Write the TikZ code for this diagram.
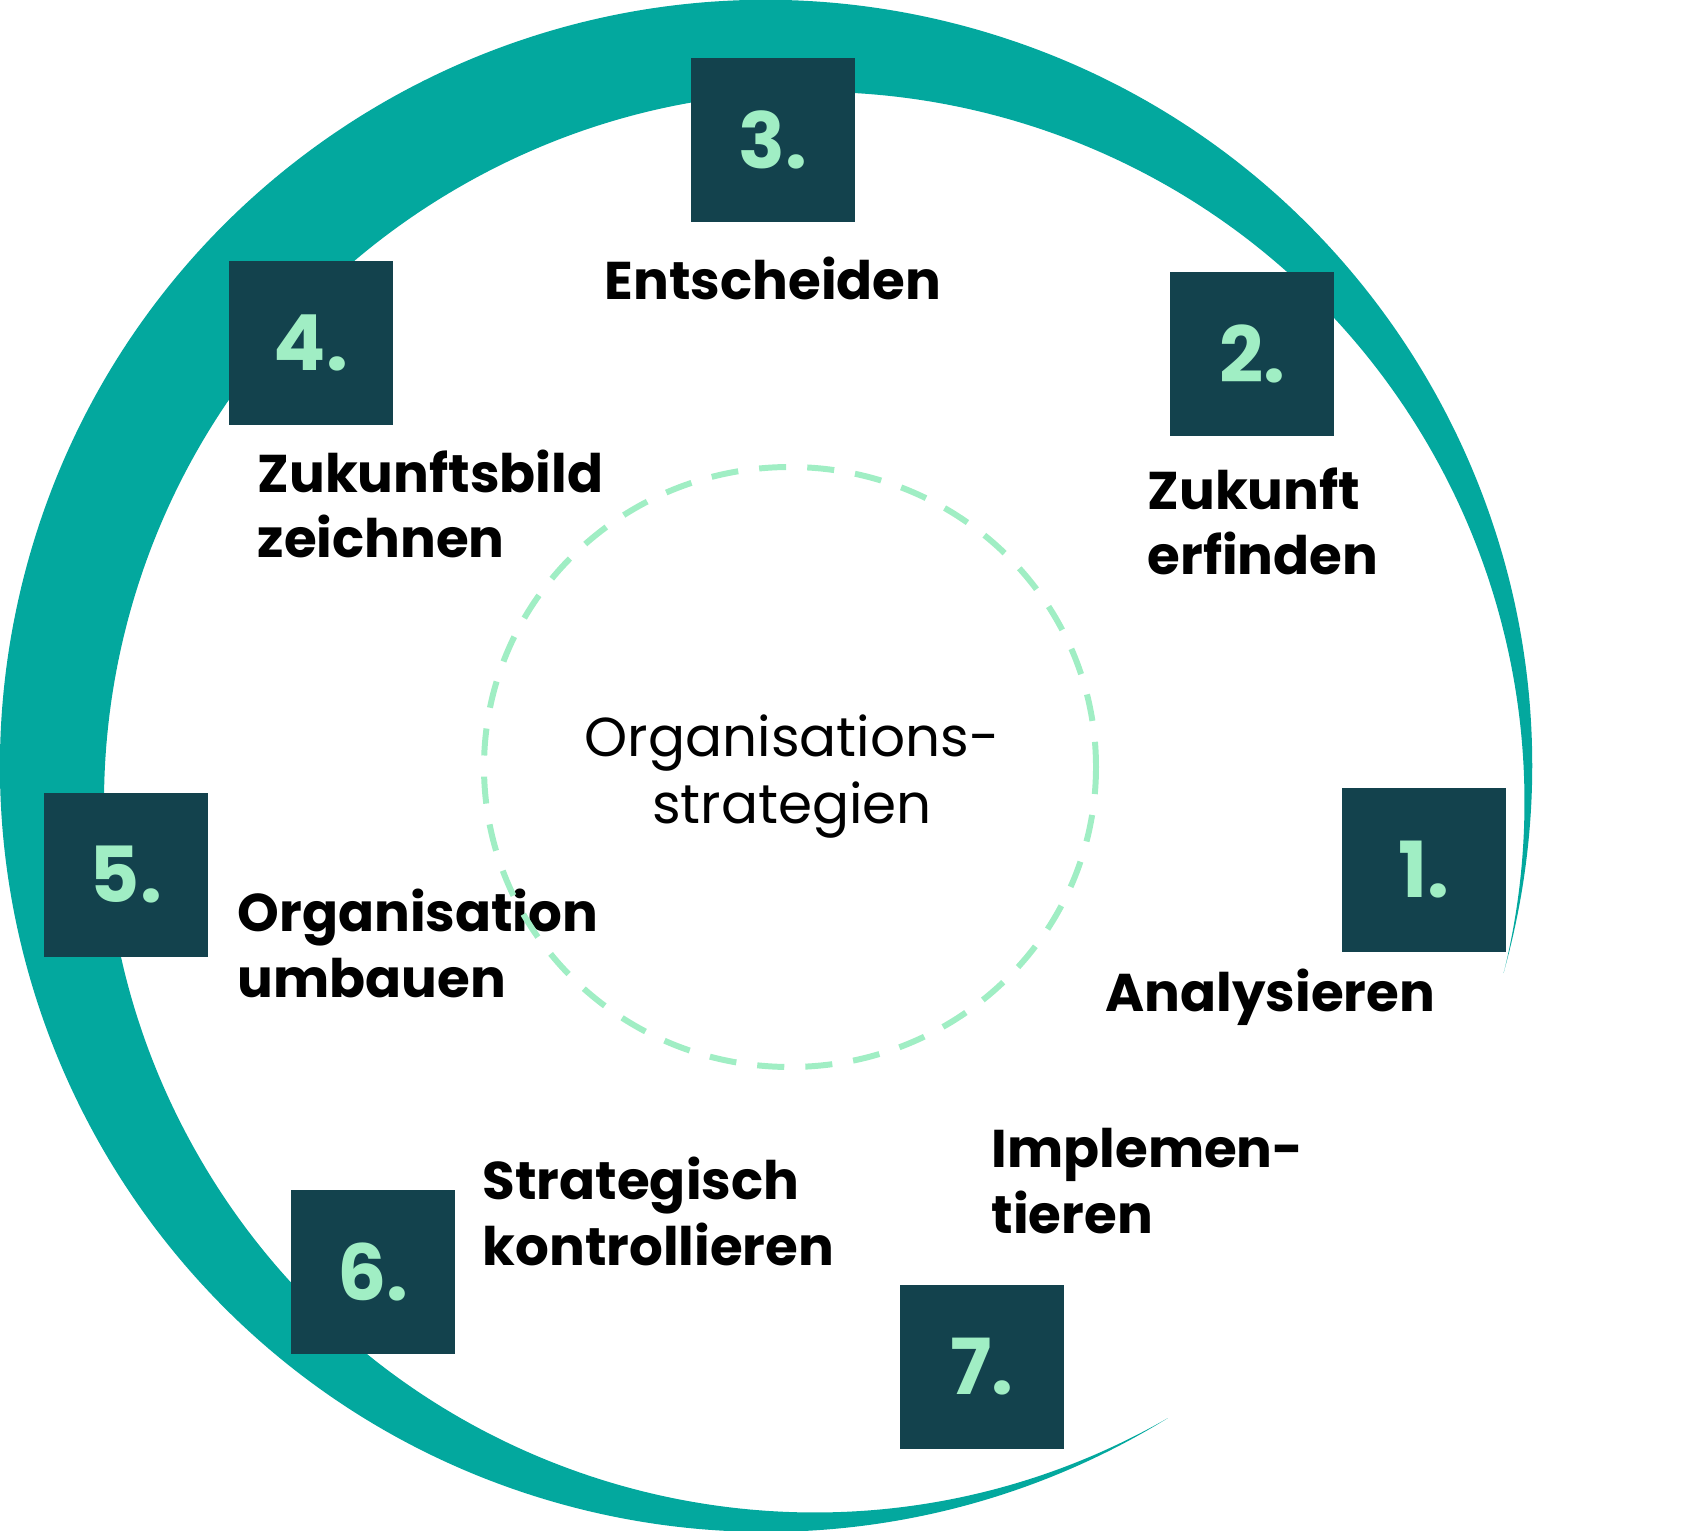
\documentclass[tikz,border=0pt]{standalone}
\usepackage{fontspec}
\setmainfont{Poppins}
\usetikzlibrary{positioning}
\definecolor{ringteal}{HTML}{03A89E}
\definecolor{boxdark}{HTML}{13424D}
\definecolor{mint}{HTML}{A0EEC4}
\tikzset{
  numbox/.style={fill=boxdark, minimum size=1.63cm, inner sep=0pt, text=mint,
    font=\fontsize{22}{26}\selectfont\bfseries},
  steptext/.style={align=left, inner sep=0pt,
    font=\fontsize{15.1}{18.5}\selectfont\bfseries},
  steplabel/.style={steptext, anchor=base west},
}

\begin{document}
\begin{tikzpicture}[x=0.01cm,y=-0.01cm]
  \useasboundingbox (0,0) rectangle (1703,1531);
  % ring: outer arc, then inner arc back
  \coordinate (tipA) at (1503.5,973.1);
  \fill[ringteal] (tipA) arc[start angle=15.69, end angle=-301.64, radius=766]
    arc[start angle=-299.86, end angle=13.92, radius=710.2] -- cycle;
  % boxes
  \node[numbox] (b1) at (1424,870) {1.};
  \node[numbox] (b2) at (1252,354) {2.};
  \node[numbox] (b3) at (773,140) {3.};
  \node[numbox] (b4) at (311,343) {4.};
  \node[numbox] (b5) at (126,875) {5.};
  \node[numbox] (b6) at (373,1272) {6.};
  \node[numbox] (b7) at (982,1367) {7.};
  % labels (base = last line)
  \node[steplabel] (analyse) at (1105,1011) {Analysieren};
  \node[steplabel] (erfinden) at (1147,575) {Zukunft\\erfinden};
  \node[steptext, below=0.34cm of b3] (entscheiden) {Entscheiden};
  \node[steplabel] (zeichnen) at (257,558) {Zukunftsbild\\zeichnen};
  \node[steplabel] (umbauen) at (237,997) {Organisation\\umbauen};
  \node[steplabel] (kontrolle) at (482,1265) {Strategisch\\kontrollieren};
  \node[steplabel] (implement) at (991,1233) {Implemen-\\tieren};
  % centre
  \node[align=center, inner sep=0pt, anchor=base, font=\fontsize{15.6}{19}\selectfont] (core) at (792,823) {Organisations-\\strategien};
  \draw[mint, line width=1.7pt, dash pattern=on 7.7pt off 6pt] (790,767) circle[x radius=306, y radius=300];
\end{tikzpicture}
\end{document}
